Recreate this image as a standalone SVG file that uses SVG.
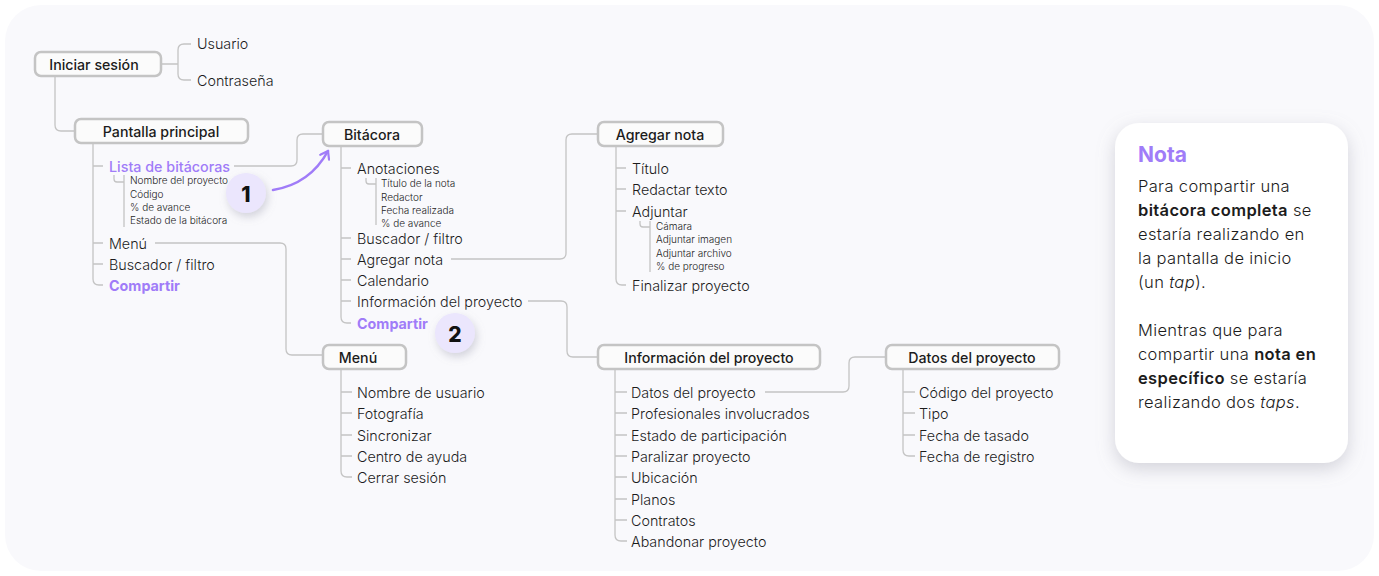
<svg xmlns="http://www.w3.org/2000/svg" width="1379" height="576" viewBox="0 0 1379 576">
  <defs>
    <style>
      text { font-family: "Inter", "Noto Sans", "Liberation Sans", sans-serif; fill: #1c1c1c; }
      .box { fill: #fbfbfb; stroke: #c4c4c4; stroke-width: 2.5; }
      .title { font-size: 14.2px; font-weight: 500; text-anchor: middle; dominant-baseline: central; }
      .item { font-size: 14.3px; font-weight: 300; dominant-baseline: central; }
      .small { font-size: 10px; font-weight: 300; dominant-baseline: central; }
      .accent { fill: #a07cf8; font-weight: 500; }
      .strong { fill: #a07cf8; font-weight: 700; }
      .wire { fill: none; stroke: #c4c4c4; stroke-width: 1.3; }
      .badge { fill: #ebe6fd; }
      .num { font-size: 21px; font-weight: 800; text-anchor: middle; dominant-baseline: central; fill: #111; }
      .note { font-size: 16.5px; font-weight: 300; letter-spacing: 0.35px; }
      .note .b { font-weight: 600; }
      .note .i { font-style: italic; }
      .note-title { font-size: 21px; font-weight: 700; fill: #a07cf8; }
    </style>
    <filter id="softShadow" x="-30%" y="-30%" width="160%" height="160%">
      <feDropShadow dx="0" dy="6" stdDeviation="9" flood-color="#8a8a9a" flood-opacity="0.35"/>
    </filter>
    <filter id="badgeShadow" x="-50%" y="-50%" width="200%" height="200%">
      <feDropShadow dx="2" dy="4" stdDeviation="4" flood-color="#8a8aa0" flood-opacity="0.35"/>
    </filter>
    <marker id="chevron" viewBox="0 0 12 12" refX="9" refY="6" markerWidth="12" markerHeight="12" markerUnits="userSpaceOnUse" orient="auto">
      <path d="M2,1 L9,6 L2,11" fill="none" stroke="#a07cf8" stroke-width="2.2" stroke-linecap="round" stroke-linejoin="round"/>
    </marker>
  </defs>

  <!-- canvas -->
  <rect x="0" y="0" width="1379" height="576" fill="#ffffff"/>
  <rect x="5" y="5" width="1369" height="566" rx="36" fill="#f9f9fc"/>

  <!-- connectors -->
  <g id="connectors">
    <path class="wire" d="M161,64 H178 M191,44 H184 Q178,44 178,50 V74 Q178,80 184,80 H191"/>
    <path class="wire" d="M55,76 V125 Q55,131 61,131 H75"/>
    <!-- Pantalla principal tree -->
    <path class="wire" d="M93,143 V279 Q93,285 99,285 H103 M93,166 H103 M93,243 H103 M93,264 H103"/>
    <path class="wire" d="M114,175 V179 Q114,182 117,182 H124 M124,175 V227"/>
    <path class="wire" d="M234,166 H291 Q297,166 297,160 V140 Q297,134 303,134 H323"/>
    <path class="wire" d="M155,243 H280 Q286,243 286,249 V349 Q286,355 292,355 H323"/>
    <!-- Bitácora tree -->
    <path class="wire" d="M341,146 V317 Q341,323 347,323 H351 M341,168 H351 M341,238 H351 M341,259 H351 M341,280 H351 M341,301 H351"/>
    <path class="wire" d="M366,178 V181 Q366,184 369,184 H376 M376,178 V225"/>
    <path class="wire" d="M451,259 H560 Q566,259 566,253 V140 Q566,134 572,134 H598"/>
    <path class="wire" d="M528,301 H561 Q567,301 567,307 V351 Q567,357 573,357 H598"/>
    <!-- Agregar nota tree -->
    <path class="wire" d="M616,146 V279 Q616,285 622,285 H626 M616,168 H626 M616,189 H626 M616,211 H626"/>
    <path class="wire" d="M640,221 V224 Q640,227 643,227 H650 M650,221 V272"/>
    <!-- Menú tree -->
    <path class="wire" d="M341,369 V471 Q341,477 347,477 H352 M341,392 H352 M341,413 H352 M341,435 H352 M341,456 H352"/>
    <!-- Información del proyecto tree -->
    <path class="wire" d="M615,369 V535 Q615,541 621,541 H627 M615,392 H627 M615,413 H627 M615,435 H627 M615,456 H627 M615,477 H627 M615,499 H627 M615,520 H627"/>
    <path class="wire" d="M765,392 H843 Q849,392 849,386 V363 Q849,357 855,357 H886"/>
    <!-- Datos del proyecto tree -->
    <path class="wire" d="M903,369 V450 Q903,456 909,456 H915 M903,392 H915 M903,413 H915 M903,435 H915"/>
  </g>

  <g id="login">
    <rect class="box" x="35" y="52" width="126" height="24" rx="6"/>
    <text class="title" x="94" y="64">Iniciar sesión</text>
    <text class="item" x="197" y="43">Usuario</text>
    <text class="item" x="197" y="80">Contraseña</text>
  </g>

  <g id="home">
    <rect class="box" x="75" y="119" width="173" height="24" rx="6"/>
    <text class="title" x="161" y="131">Pantalla principal</text>
    <text class="item accent" x="109" y="166">Lista de bitácoras</text>
    <text class="small" x="130" y="180">Nombre del proyecto</text>
    <text class="small" x="130" y="194">Código</text>
    <text class="small" x="130" y="207">% de avance</text>
    <text class="small" x="130" y="220">Estado de la bitácora</text>
    <text class="item" x="109" y="243">Menú</text>
    <text class="item" x="109" y="264">Buscador / filtro</text>
    <text class="item strong" x="109" y="285">Compartir</text>
  </g>

  <g id="bitacora">
    <rect class="box" x="323" y="122" width="99" height="24" rx="6"/>
    <text class="title" x="372" y="134">Bitácora</text>
    <text class="item" x="357" y="168">Anotaciones</text>
    <text class="small" x="381" y="183">Título de la nota</text>
    <text class="small" x="381" y="197">Redactor</text>
    <text class="small" x="381" y="210">Fecha realizada</text>
    <text class="small" x="381" y="223">% de avance</text>
    <text class="item" x="357" y="238">Buscador / filtro</text>
    <text class="item" x="357" y="259">Agregar nota</text>
    <text class="item" x="357" y="280">Calendario</text>
    <text class="item" x="357" y="301">Información del proyecto</text>
    <text class="item strong" x="357" y="323">Compartir</text>
  </g>

  <g id="agregar-nota">
    <rect class="box" x="598" y="122" width="125" height="24" rx="6"/>
    <text class="title" x="660" y="134">Agregar nota</text>
    <text class="item" x="632" y="168">Título</text>
    <text class="item" x="632" y="189">Redactar texto</text>
    <text class="item" x="632" y="211">Adjuntar</text>
    <text class="small" x="656" y="226">Cámara</text>
    <text class="small" x="656" y="239">Adjuntar imagen</text>
    <text class="small" x="656" y="253">Adjuntar archivo</text>
    <text class="small" x="656" y="266">% de progreso</text>
    <text class="item" x="632" y="285">Finalizar proyecto</text>
  </g>

  <g id="menu">
    <rect class="box" x="323" y="345" width="83" height="24" rx="6"/>
    <text class="title" x="358" y="357">Menú</text>
    <text class="item" x="357" y="392">Nombre de usuario</text>
    <text class="item" x="357" y="413">Fotografía</text>
    <text class="item" x="357" y="435">Sincronizar</text>
    <text class="item" x="357" y="456">Centro de ayuda</text>
    <text class="item" x="357" y="477">Cerrar sesión</text>
  </g>

  <g id="info-proyecto">
    <rect class="box" x="598" y="345" width="222" height="24" rx="6"/>
    <text class="title" x="709" y="357">Información del proyecto</text>
    <text class="item" x="631" y="392">Datos del proyecto</text>
    <text class="item" x="631" y="413">Profesionales involucrados</text>
    <text class="item" x="631" y="435">Estado de participación</text>
    <text class="item" x="631" y="456">Paralizar proyecto</text>
    <text class="item" x="631" y="477">Ubicación</text>
    <text class="item" x="631" y="499">Planos</text>
    <text class="item" x="631" y="520">Contratos</text>
    <text class="item" x="631" y="541">Abandonar proyecto</text>
  </g>

  <g id="datos-proyecto">
    <rect class="box" x="886" y="345" width="173" height="24" rx="6"/>
    <text class="title" x="972" y="357">Datos del proyecto</text>
    <text class="item" x="919" y="392">Código del proyecto</text>
    <text class="item" x="919" y="413">Tipo</text>
    <text class="item" x="919" y="435">Fecha de tasado</text>
    <text class="item" x="919" y="456">Fecha de registro</text>
  </g>

  <!-- step markers -->
  <g id="step-1">
    <circle class="badge" cx="246" cy="193" r="20" filter="url(#badgeShadow)"/>
    <text class="num" x="246" y="194">1</text>
    <path d="M273,190 Q310,184 328,151" fill="none" stroke="#a07cf8" stroke-width="2.6" stroke-linecap="round" marker-end="url(#chevron)"/>
  </g>
  <g id="step-2">
    <circle class="badge" cx="455" cy="333" r="20" filter="url(#badgeShadow)"/>
    <text class="num" x="455" y="334">2</text>
  </g>

  <!-- side note -->
  <g id="nota">
    <rect x="1115" y="123" width="233" height="340" rx="24" fill="#ffffff" filter="url(#softShadow)"/>
    <text class="note-title" x="1138" y="162">Nota</text>
    <text class="note" x="1138" y="192">Para compartir una</text>
    <text class="note" x="1138" y="216"><tspan class="b">bitácora completa</tspan> se</text>
    <text class="note" x="1138" y="240">estaría realizando en</text>
    <text class="note" x="1138" y="264">la pantalla de inicio</text>
    <text class="note" x="1138" y="288">(un <tspan class="i">tap</tspan>).</text>
    <text class="note" x="1138" y="336">Mientras que para</text>
    <text class="note" x="1138" y="360">compartir una <tspan class="b">nota en</tspan></text>
    <text class="note" x="1138" y="384"><tspan class="b">específico</tspan> se estaría</text>
    <text class="note" x="1138" y="408">realizando dos <tspan class="i">taps</tspan>.</text>
  </g>
</svg>
